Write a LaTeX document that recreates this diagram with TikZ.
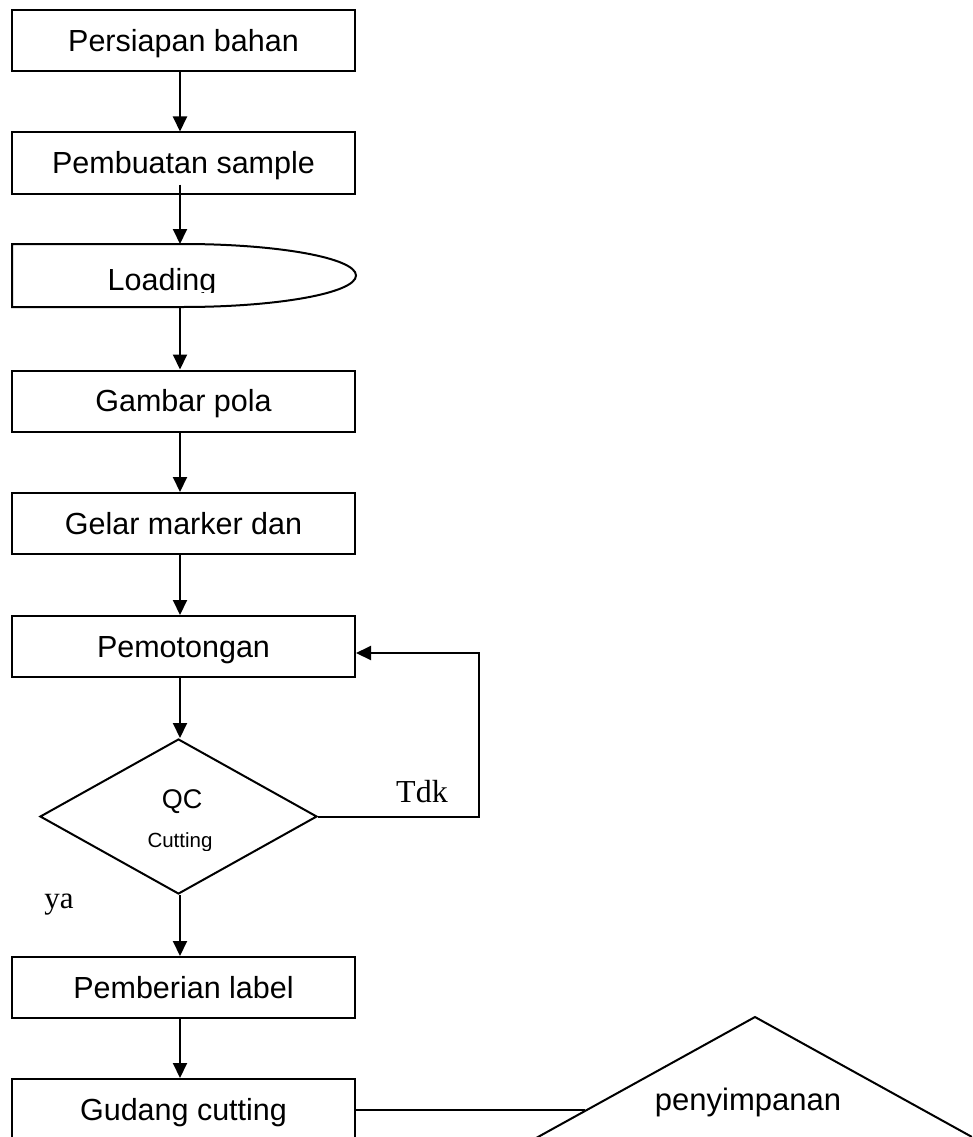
\documentclass[tikz,border=0pt]{standalone}
\usepackage{fontspec}
\setmainfont{Liberation Sans}
\newfontfamily\serifF{Liberation Serif}
\usetikzlibrary{shapes.geometric,arrows.meta}
\begin{document}
\begin{tikzpicture}[x=1pt,y=-1pt,
  ln/.style={line width=2pt},
  box/.style={draw,ln,minimum width=343pt,minimum height=61pt,inner sep=0pt,
    font=\fontsize{30.5}{31}\selectfont,text height=21.5pt,text depth=0pt},
  arr/.style={ln,-{Triangle[length=15pt,width=14pt]}},
  sanstxt/.style={inner sep=0pt,anchor=base},
  sertxt/.style={inner sep=0pt,anchor=base,font=\serifF\fontsize{32}{32}\selectfont}]
\clip (0,0) rectangle (972,1137);
\fill[white] (0,0) rectangle (972,1137);
\coordinate (ax) at (180,0);
% boxes
\node[box] (b1) at (183.5,40.3) {Persiapan bahan};
\node[box] (b2) at (183.5,163) {Pembuatan sample};
\node[box] (b3) at (183.5,401) {Gambar pola};
\node[box] (b4) at (183.5,523.5) {Gelar marker dan};
\node[box] (b5) at (183.5,646.5) {Pemotongan};
\node[box] (b6) at (183.5,987.5) {Pemberian label};
\node[box] (b7) at (183.5,1109.5) {Gudang cutting};
% loading shape
\draw[ln] (12,244) -- (183,244) .. controls (278.5,244) and (356,258.1) .. (356,275.5)
  .. controls (356,292.9) and (278.5,307) .. (183,307) -- (12,307) -- cycle;
\coordinate (lt) at (180,244);
\coordinate (lb) at (180,307);
\begin{scope}
  \clip (12,244) rectangle (356,292);
  \node[sanstxt,font=\fontsize{30.5}{31}\selectfont] (tload) at (162,290) {Loading};
\end{scope}
% decision
\node[draw,ln,diamond,minimum width=277pt,minimum height=155pt,inner sep=0pt] (qc) at (178.5,816.5) {};
\node[sanstxt,font=\fontsize{27}{27}\selectfont] (tqc) at (182,808) {QC};
\begin{scope}
  \clip (100,820) rectangle (260,850);
  \node[sanstxt,font=\fontsize{20.5}{21}\selectfont] (tcut) at (180,847) {Cutting};
\end{scope}
\node[sertxt] (tdk) at (422,802) {Tdk};
\node[sertxt,font=\serifF\fontsize{31}{31}\selectfont] (ya) at (59,908) {ya};
% arrows
\draw[arr] (b1.south -| ax) -- (b2.north -| ax);
\draw[arr] ([yshift=10pt]b2.south -| ax) -- (lt);
\draw[arr] (lb) -- (b3.north -| ax);
\draw[arr] (b3.south -| ax) -- (b4.north -| ax);
\draw[arr] (b4.south -| ax) -- (b5.north -| ax);
\draw[arr] (b5.south -| ax) -- (qc.north -| ax);
\draw[arr] (qc.south -| ax) -- (b6.north -| ax);
\draw[arr] (b6.south -| ax) -- (b7.north -| ax);
% loop back
\coordinate (lp) at (479,817);
\draw[arr] (qc.east) -- (qc.east -| lp) |- ([yshift=-6.5pt]b5.east);
% storage triangle
\coordinate (apex) at (755,1017);
\draw[ln] (424,1200) -- (apex) -- (1086,1200);
\coordinate (trl) at (585,1109.5);
\draw[ln] (b7.east) -- (trl);
\node[sanstxt,font=\fontsize{31}{31}\selectfont] (peny) at (748,1110) {penyimpanan};
\end{tikzpicture}
\end{document}
